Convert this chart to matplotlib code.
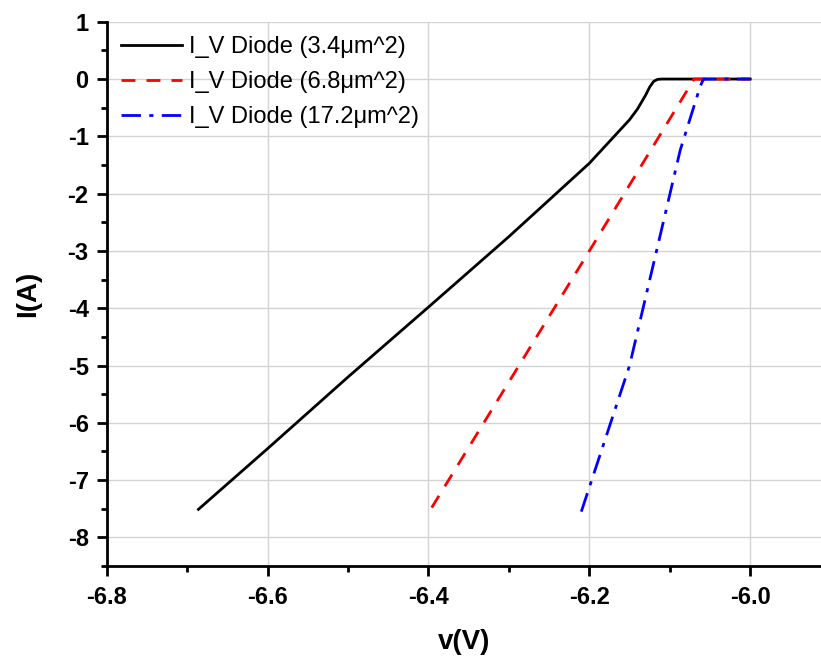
import matplotlib
matplotlib.use('Agg')
import matplotlib.pyplot as plt
from matplotlib.ticker import MultipleLocator

plt.rcParams['font.family'] = ['Liberation Sans', 'DejaVu Sans']

# I-V curves
v_34 = [-6.686, -6.6, -6.5, -6.4, -6.3, -6.2, -6.15, -6.14, -6.13, -6.125, -6.12, -6.115, -6.11, -6.0]
i_34 = [-7.51, -6.45, -5.2, -3.98, -2.75, -1.47, -0.71, -0.52, -0.28, -0.14, -0.04, -0.005, 0.0, 0.0]

v_68 = [-6.396, -6.2, -6.075, -6.07, -6.0]
i_68 = [-7.48, -3.0, -0.12, 0.0, 0.0]

v_172 = [-6.21, -6.15, -6.087, -6.062, -6.058, -6.0]
i_172 = [-7.55, -5.0, -1.24, -0.12, 0.0, 0.0]

labels = ['I_V Diode (3.4μm^2)', 'I_V Diode (6.8μm^2)', 'I_V Diode (17.2μm^2)']

fig = plt.figure(figsize=(8.21, 6.59), dpi=100)
ax = fig.add_axes([0.130, 0.141, 0.870, 0.826])

ax.plot(v_34, i_34, color='black', lw=2, ls='-', label=labels[0])
ax.plot(v_68, i_68, color='red', lw=2, ls=(0, (5, 4)), label=labels[1])
ax.plot(v_172, i_172, color='blue', lw=2, ls=(0, (7, 3, 1.5, 3)), label=labels[2])

ax.set_xlim(-6.8, -5.912)
ax.set_ylim(-8.5, 1)
ax.xaxis.set_minor_locator(MultipleLocator(0.1))
ax.yaxis.set_minor_locator(MultipleLocator(0.5))
ax.set_xticks([-6.8, -6.6, -6.4, -6.2, -6.0])
ax.set_xticklabels(['-6.8', '-6.6', '-6.4', '-6.2', '-6.0'])
ax.set_yticks(range(-8, 2))
ax.set_yticklabels([str(t) for t in range(-8, 2)])

ax.grid(True, which='major', color='#d3d3d3', lw=1)
ax.set_axisbelow(True)

for s in ['top', 'right']:
    ax.spines[s].set_visible(False)
for s in ['left', 'bottom']:
    ax.spines[s].set_linewidth(2)

ax.tick_params(which='major', direction='out', length=7, width=2, labelsize=17)
ax.tick_params(axis='x', which='major', pad=7)
ax.tick_params(axis='y', which='major', pad=6)
ax.tick_params(which='minor', direction='out', length=4, width=2)
for lab in ax.get_xticklabels() + ax.get_yticklabels():
    lab.set_fontweight('bold')

ax.set_xlabel('v(V)', fontsize=20, fontweight='bold', labelpad=15)
ax.set_ylabel('I(A)', fontsize=20, fontweight='bold', labelpad=19)

ax.legend(loc='upper left', frameon=False, fontsize=17, handlelength=2.6,
          handletextpad=0.3, labelspacing=0.55, borderaxespad=0.2,
          bbox_to_anchor=(0.0, 1.0))

fig.savefig('out.png', dpi=100)
